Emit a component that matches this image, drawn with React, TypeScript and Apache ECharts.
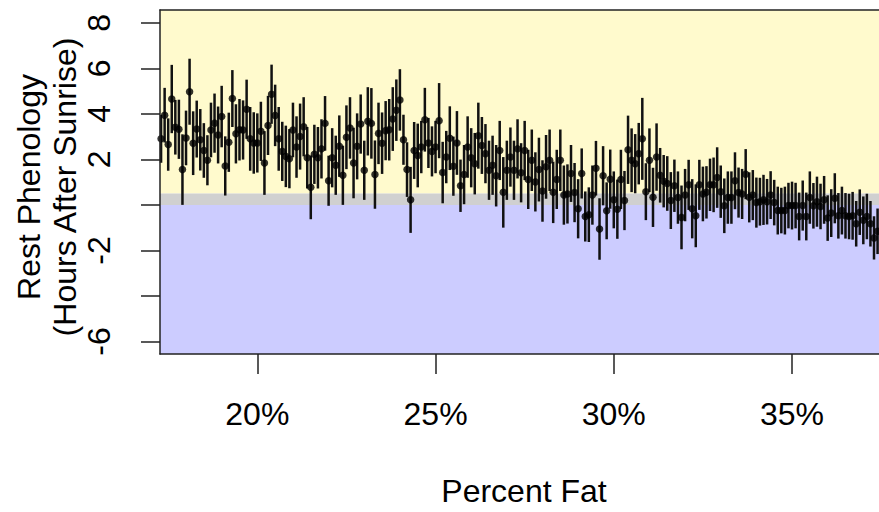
import React, { useEffect, useRef } from "react";
import * as echarts from "echarts";

const fatPct = [
  17.3, 17.4, 17.5, 17.6, 17.7, 17.8, 17.9,
  18.0, 18.1, 18.2, 18.3, 18.4, 18.5, 18.6, 18.7, 18.8, 18.9,
  19.0, 19.1, 19.2, 19.3, 19.4, 19.5, 19.6, 19.7, 19.8, 19.9,
  20.0, 20.1, 20.2, 20.3, 20.4, 20.5, 20.6, 20.7, 20.8, 20.9,
  21.0, 21.1, 21.2, 21.3, 21.4, 21.5, 21.6, 21.7, 21.8, 21.9,
  22.0, 22.1, 22.2, 22.3, 22.4, 22.5, 22.6, 22.7, 22.8, 22.9,
  23.0, 23.1, 23.2, 23.3, 23.4, 23.5, 23.6, 23.7, 23.8, 23.9,
  24.0, 24.1, 24.2, 24.3, 24.4, 24.5, 24.6, 24.7, 24.8, 24.9,
  25.0, 25.1, 25.2, 25.3, 25.4, 25.5, 25.6, 25.7, 25.8, 25.9,
  26.0, 26.1, 26.2, 26.3, 26.4, 26.5, 26.6, 26.7, 26.8, 26.9,
  27.0, 27.1, 27.2, 27.3, 27.4, 27.5, 27.6, 27.7, 27.8, 27.9,
  28.0, 28.1, 28.2, 28.3, 28.4, 28.5, 28.6, 28.7, 28.8, 28.9,
  29.0, 29.1, 29.2, 29.3, 29.4, 29.5, 29.6, 29.7, 29.8, 29.9,
  30.0, 30.1, 30.2, 30.3, 30.4, 30.5, 30.6, 30.7, 30.8, 30.9,
  31.0, 31.1, 31.2, 31.3, 31.4, 31.5, 31.6, 31.7, 31.8, 31.9,
  32.0, 32.1, 32.2, 32.3, 32.4, 32.5, 32.6, 32.7, 32.8, 32.9,
  33.0, 33.1, 33.2, 33.3, 33.4, 33.5, 33.6, 33.7, 33.8, 33.9,
  34.0, 34.1, 34.2, 34.3, 34.4, 34.5, 34.6, 34.7, 34.8, 34.9,
  35.0, 35.1, 35.2, 35.3, 35.4, 35.5, 35.6, 35.7, 35.8, 35.9,
  36.0, 36.1, 36.2, 36.3, 36.4, 36.5, 36.6, 36.7, 36.8, 36.9,
  37.0, 37.1, 37.2, 37.3, 37.4, 37.5,
];

const restMean = [
  2.90, 3.94, 2.65, 4.65, 3.41, 3.32, 1.55, 2.94, 4.97, 2.71, 3.33, 2.86, 2.39, 1.96, 3.29, 3.59, 3.07, 3.88, 1.71, 2.75, 4.67, 3.12, 3.30, 3.29, 4.20, 2.90, 2.72, 2.72, 3.23, 1.84, 3.49, 4.86, 3.93, 2.90,
  2.35, 2.13, 2.03, 3.29, 2.54, 3.00, 3.43, 2.07, 0.77, 2.22, 2.07, 2.46, 3.58, 1.06, 2.07, 1.74, 2.58, 1.30, 2.97, 3.38, 1.84, 2.57, 3.55, 1.52, 3.67, 3.58, 1.33, 3.14, 2.71, 3.26, 3.30, 3.77, 4.16,
  4.61, 2.86, 1.55, 0.22, 2.39, 2.17, 2.54, 3.74, 2.72, 2.35, 2.54, 3.70, 1.42, 2.10, 2.93, 1.70, 2.72, 0.84, 1.33, 2.54, 2.07, 1.81, 3.04, 2.61, 2.25, 1.52, 1.74, 1.28, 2.39, 0.55, 1.52, 2.10, 1.52, 2.46,
  1.41, 2.39, 1.12, 1.96, 1.01, 1.55, 0.61, 1.67, 1.96, 0.55, 1.12, 1.96, 0.43, 0.48, 1.38, 0.54, -0.17, 1.38, -0.51, -0.43, 0.43, 1.61, -1.06, 1.28, -0.26, 1.13, 0.22, -0.19, 1.12, 0.19, 2.42, 1.96, 1.81, 2.25,
  2.90, 0.58, 1.96, 0.33, 2.10, 1.30, 1.04, 0.94, 0.19, 0.84, 0.32, -0.55, 0.43, 0.88, -0.17, -0.48, 0.88, 0.48, 0.55, 0.88, 0.88, 1.20, 0.58, -0.04, 0.32, 0.32, 1.06, 0.54, 0.48, 1.35, 0.33, 0.43, 0.10,
  0.14, 0.22, 0.14, 0.43, 0.10, -0.25, -0.25, -0.25, -0.03, -0.03, -0.03, -0.51, -0.03, -0.51, 0.32, -0.04, 0.14, -0.07, 0.22, -0.58, -0.36, 0.29, -0.48, -0.25, -0.48, -0.51, -0.48, -0.83, -0.32, -0.68, -0.51, -0.83, -1.45, -1.16, -0.62,
];

const restErr = [
  1.05, 1.2, 1.15, 1.5, 1.2, 1.3, 1.55, 1.2, 1.45, 1.4, 1.25, 1.35, 1.2, 1.1, 1.2, 1.3, 1.25, 1.35, 1.3, 1.3, 1.25, 1.3, 1.35, 1.3, 1.3, 1.4, 1.35, 1.3, 1.3, 1.4, 1.3, 1.3, 1.35, 1.4,
  1.3, 1.35, 1.3, 1.2, 1.35, 1.45, 1.3, 1.35, 1.4, 1.3, 1.35, 1.3, 1.2, 1.1, 1.3, 1.3, 1.35, 1.3, 1.4, 1.35, 1.55, 1.45, 1.3, 1.3, 1.5, 1.55, 1.5, 1.35, 1.35, 1.3, 1.35, 1.4, 1.35,
  1.35, 1.1, 1.2, 1.45, 1.25, 1.4, 1.15, 1.4, 1.1, 1.1, 1.15, 1.65, 1.35, 1.15, 1.4, 1.3, 1.4, 1.15, 1.3, 1.35, 1.3, 1.35, 1.45, 1.25, 1.3, 1.3, 1.3, 1.35, 1.3, 1.55, 1.3, 1.3, 1.3, 1.3,
  1.3, 1.3, 1.3, 1.35, 1.3, 1.4, 1.35, 1.4, 1.35, 1.35, 1.3, 1.35, 1.3, 1.3, 1.25, 1.3, 1.3, 1.1, 1.1, 1.2, 1.3, 1.2, 1.35, 1.3, 1.25, 1.3, 1.25, 1.3, 1.3, 1.3, 1.5, 1.4, 1.3, 1.35,
  1.8, 1.25, 1.4, 1.3, 1.48, 1.2, 1.15, 1.2, 1.25, 1.15, 1.15, 1.4, 1.15, 1.1, 1.3, 1.38, 1.1, 1.2, 1.15, 1.15, 1.2, 1.33, 1.15, 1.2, 1.15, 1.15, 1.25, 1.1, 1.1, 1.1, 1.1, 1.1, 1.1,
  1.05, 1.1, 1.0, 1.05, 1.0, 1.05, 1.0, 1.05, 1.0, 1.05, 1.0, 1.05, 1.1, 1.05, 1.15, 1.0, 1.1, 1.0, 1.05, 1.0, 1.05, 1.1, 1.0, 1.05, 1.0, 1.0, 1.05, 1.0, 1.0, 1.05, 1.0, 1.0, 0.95, 1.0, 1.0,
];

const xTickValues = [20, 25, 30, 35];
const yTickValues = [8, 6, 4, 2, 0, -2, -4, -6];
const yLabelValues = [8, 6, 4, 2, -2, -6];
const xMin = 17.27;
const xMax = 37.44;
const yMin = -6.55;
const yMax = 8.56;
const grayTop = 0.5;

const FONT = "'Liberation Sans', Arial, Helvetica, sans-serif";
const FS = 32;

export default function App() {
  const ref = useRef<HTMLDivElement>(null);
  useEffect(() => {
    document.body.style.margin = "0";
    const chart = echarts.init(ref.current!, null, { renderer: "svg" });
    const barData = fatPct.map((x, i) => [x, restMean[i] - restErr[i], restMean[i] + restErr[i]]);
    const ptData = fatPct.map((x, i) => [x, restMean[i]]);
    const axisLineStyle = { color: "#222", width: 1.5 };
    chart.setOption({
      animation: false,
      backgroundColor: "#ffffff",
      grid: { left: 160, right: -3, top: 10, bottom: 158 },
      xAxis: [
        {
          type: "value",
          min: xMin,
          max: xMax,
          z: 10,
          axisLine: { show: true, onZero: false, lineStyle: axisLineStyle },
          axisTick: { show: true, customValues: xTickValues, length: 20, lineStyle: axisLineStyle },
          axisLabel: {
            customValues: xTickValues,
            formatter: (v: number) => `${v}%`,
            fontSize: FS,
            fontFamily: FONT,
            color: "#000",
            margin: 44,
          },
          splitLine: { show: false },
        },
        {
          type: "value",
          position: "top",
          min: xMin,
          max: xMax,
          z: 10,
          axisLine: { show: true, onZero: false, lineStyle: axisLineStyle },
          axisTick: { show: false },
          axisLabel: { show: false },
          splitLine: { show: false },
        },
      ],
      yAxis: {
        type: "value",
        min: yMin,
        max: yMax,
        z: 10,
        axisLine: { show: true, onZero: false, lineStyle: axisLineStyle },
        axisTick: { show: true, customValues: yTickValues, length: 19, lineStyle: axisLineStyle },
        axisLabel: {
          customValues: yLabelValues,
          rotate: 90,
          fontSize: FS,
          fontFamily: FONT,
          color: "#000",
          margin: 45,
        },
        splitLine: { show: false },
      },
      graphic: [
        {
          type: "text",
          x: 524,
          y: 491,
          style: { text: "Percent Fat", align: "center", verticalAlign: "middle", fontSize: FS, fontFamily: FONT, fill: "#000" },
        },
        {
          type: "text",
          x: 29,
          y: 187,
          rotation: Math.PI / 2,
          style: { text: "Rest Phenology", align: "center", verticalAlign: "middle", fontSize: FS, fontFamily: FONT, fill: "#000" },
        },
        {
          type: "text",
          x: 65,
          y: 187,
          rotation: Math.PI / 2,
          style: { text: "(Hours After Sunrise)", align: "center", verticalAlign: "middle", fontSize: FS, fontFamily: FONT, fill: "#000" },
        },
      ],
      series: [
        {
          type: "custom",
          xAxisIndex: 0,
          yAxisIndex: 0,
          z: 3,
          encode: { x: 0, y: [1, 2] },
          data: barData,
          renderItem: (params: any, api: any) => {
            const x = api.value(0);
            const p1 = api.coord([x, api.value(1)]);
            const p2 = api.coord([x, api.value(2)]);
            return {
              type: "line",
              shape: { x1: p1[0], y1: p1[1], x2: p2[0], y2: p2[1] },
              style: { stroke: "#111", lineWidth: 2.5 },
            };
          },
          markArea: {
            silent: true,
            z: 1,
            itemStyle: { borderWidth: 0 },
            data: [
              [{ yAxis: grayTop, itemStyle: { color: "#FFFACD" } }, { yAxis: yMax }],
              [{ yAxis: 0, itemStyle: { color: "#D0D0D0" } }, { yAxis: grayTop }],
              [{ yAxis: yMin, itemStyle: { color: "#CCCCFF" } }, { yAxis: 0 }],
            ],
          },
        },
        {
          type: "scatter",
          xAxisIndex: 0,
          yAxisIndex: 0,
          z: 4,
          symbol: "circle",
          symbolSize: 7.5,
          itemStyle: { color: "#000" },
          data: ptData,
        },
      ],
    });
    return () => chart.dispose();
  }, []);
  return <div ref={ref} style={{ width: 879, height: 512 }} />;
}
